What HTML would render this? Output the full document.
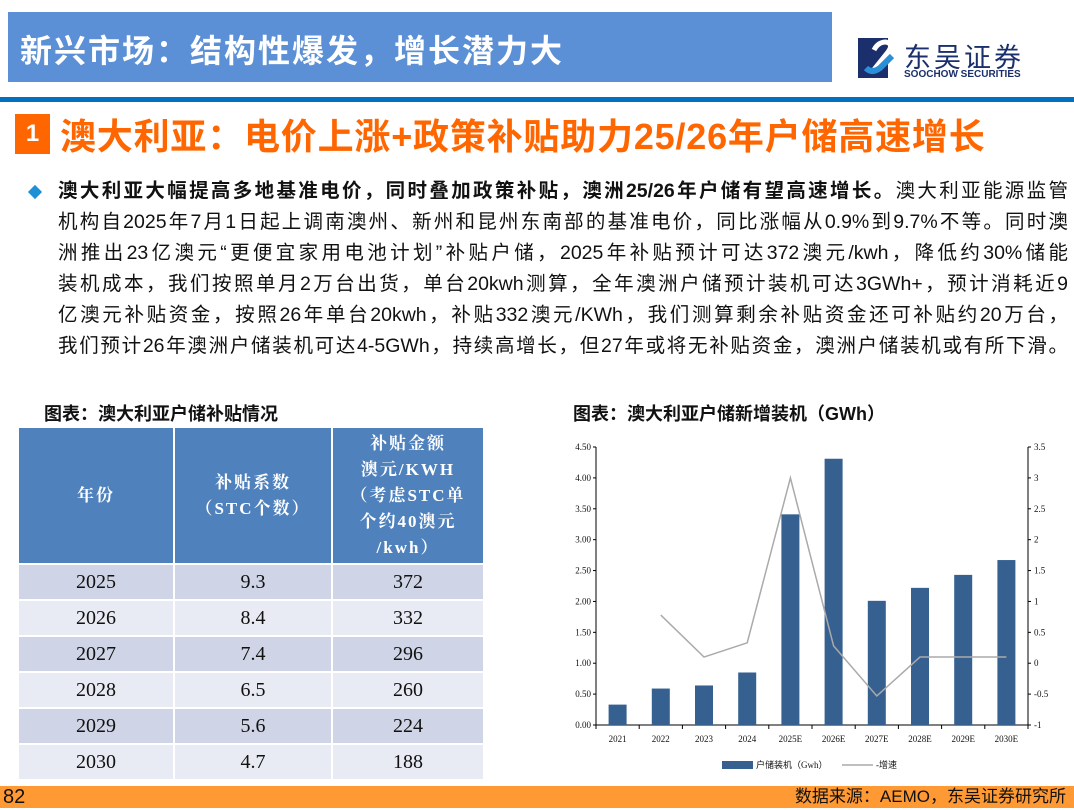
<!DOCTYPE html>
<html><head><meta charset="utf-8">
<style>
body{margin:0;width:1074px;height:810px;position:relative;background:#fff;font-family:"Liberation Sans","Noto Sans CJK SC",sans-serif;overflow:hidden}
.abs{position:absolute}
.ln{position:absolute;left:58px;width:1010px;font-size:19.5px;line-height:30px;color:#111;text-align:justify;text-align-last:justify;white-space:nowrap}
table{border-collapse:collapse;font-family:"Liberation Serif","Noto Serif CJK SC",serif}
td{border:2px solid #fff;text-align:center;font-size:20px;color:#111;padding:0}
th{border:2px solid #fff;background:#4f81bd;color:#fff;font-size:17px;font-weight:bold;line-height:26px;padding:0;letter-spacing:2px}
</style></head><body>
<div class="abs" style="left:8px;top:12px;width:824px;height:70px;background:#5b8fd6"></div>
<div class="abs" style="left:20px;top:26px;font-size:32px;font-weight:bold;color:#fff;letter-spacing:2px">新兴市场：结构性爆发，增长潜力大</div>
<div class="abs" style="left:858px;top:38px;width:40px;height:40px">
<svg width="40" height="40"><rect x="0" y="0" width="30" height="40" fill="#1a2f6b"/><path d="M14 34 L30 14 Q36 6 28 4 Q20 4 16 12" stroke="#fff" stroke-width="5" fill="none"/><path d="M8 30 Q14 36 22 30 L34 18" stroke="#2a8fd6" stroke-width="6" fill="none"/></svg></div>
<div class="abs" style="left:904px;top:36px;font-size:27px;color:#1a2f6b;letter-spacing:3px">东吴证券</div>
<div class="abs" style="left:904px;top:69px;font-size:10px;font-weight:bold;color:#1a2f6b">SOOCHOW SECURITIES</div>
<div class="abs" style="left:0;top:97px;width:1074px;height:5px;background:#0070c0"></div>
<div class="abs" style="left:15px;top:114px;width:35px;height:40px;background:#ff6600;color:#fff;font-weight:bold;font-size:24px;text-align:center;line-height:40px">1</div>
<div class="abs" style="left:60px;top:108px;font-size:36px;font-weight:bold;color:#ff6600;white-space:nowrap;letter-spacing:0.8px">澳大利亚：电价上涨+政策补贴助力25/26年户储高速增长</div>
<div class="abs" style="left:30px;top:187px;width:10px;height:10px;background:#1e90d6;transform:rotate(45deg)"></div>
<div>
<div class="ln" style="top:176px"><b>澳大利亚大幅提高多地基准电价，同时叠加政策补贴，澳洲25/26年户储有望高速增长。</b>澳大利亚能源监管</div>
<div class="ln" style="top:207px">机构自2025年7月1日起上调南澳州、新州和昆州东南部的基准电价，同比涨幅从0.9%到9.7%不等。同时澳</div>
<div class="ln" style="top:238px">洲推出23亿澳元“更便宜家用电池计划”补贴户储，2025年补贴预计可达372澳元/kwh，降低约30%储能</div>
<div class="ln" style="top:269px">装机成本，我们按照单月2万台出货，单台20kwh测算，全年澳洲户储预计装机可达3GWh+，预计消耗近9</div>
<div class="ln" style="top:300px">亿澳元补贴资金，按照26年单台20kwh，补贴332澳元/KWh，我们测算剩余补贴资金还可补贴约20万台，</div>
<div class="ln" style="top:331px">我们预计26年澳洲户储装机可达4-5GWh，持续高增长，但27年或将无补贴资金，澳洲户储装机或有所下滑。</div>
</div>
<div class="abs" style="left:44px;top:400px;font-size:18px;font-weight:bold;color:#111">图表：澳大利亚户储补贴情况</div>
<table class="abs" style="left:17px;top:426px;width:468px">
<tr style="height:137px"><th style="width:154px">年份</th><th style="width:156px">补贴系数<br>（STC个数）</th><th>补贴金额<br>澳元/KWH<br>（考虑STC单<br>个约40澳元<br>/kwh）</th></tr>
<tr style="height:36px;background:#cfd5e6"><td>2025</td><td>9.3</td><td>372</td></tr>
<tr style="height:36px;background:#e8ebf3"><td>2026</td><td>8.4</td><td>332</td></tr>
<tr style="height:36px;background:#cfd5e6"><td>2027</td><td>7.4</td><td>296</td></tr>
<tr style="height:36px;background:#e8ebf3"><td>2028</td><td>6.5</td><td>260</td></tr>
<tr style="height:36px;background:#cfd5e6"><td>2029</td><td>5.6</td><td>224</td></tr>
<tr style="height:36px;background:#e8ebf3"><td>2030</td><td>4.7</td><td>188</td></tr>
</table>
<div class="abs" style="left:573px;top:400px;font-size:18px;font-weight:bold;color:#111">图表：澳大利亚户储新增装机（GWh）</div>
<svg class="abs" id="chart" style="left:0;top:0" width="1074" height="810"></svg>
<div class="abs" style="left:0;top:786px;width:1074px;height:22px;background:#ff9933"></div>
<div class="abs" style="left:3px;top:786px;font-size:20px;color:#111;line-height:22px">82</div>
<div class="abs" style="right:8px;top:786px;font-size:17px;color:#111;line-height:22px">数据来源：AEMO，东吴证券研究所</div>
<script>
const categories=["2021","2022","2023","2024","2025E","2026E","2027E","2028E","2029E","2030E"];
const installs=[0.33,0.59,0.64,0.85,3.41,4.31,2.01,2.22,2.43,2.67];
const growth=[null,0.78,0.1,0.33,3.0,0.28,-0.53,0.1,0.1,0.1];
const leftTicks=[0,0.5,1,1.5,2,2.5,3,3.5,4,4.5];
const rightTicks=[-1,-0.5,0,0.5,1,1.5,2,2.5,3,3.5];
const svg=document.getElementById('chart');
const NS="http://www.w3.org/2000/svg";
const X0=596,X1=1028,Y0=725,Y1=447;
const bw=(X1-X0)/categories.length;
const yL=v=>Y0-(v-0)/(4.5-0)*(Y0-Y1);
const yR=v=>Y0-(v+1)/(3.5+1)*(Y0-Y1);
const xC=i=>X0+bw*(i+0.5);
function mk(t,a){const e=document.createElementNS(NS,t);for(const k in a)e.setAttribute(k,a[k]);svg.appendChild(e);return e;}
const F='font-family:"Liberation Serif",serif;font-size:9px;fill:#111';
let e;
e=mk('line',{x1:X0,y1:Y1,x2:X0,y2:Y0,stroke:'#000'});


e=mk('line',{x1:X1,y1:Y1,x2:X1,y2:Y0,stroke:'#000'});


e=mk('line',{x1:X0,y1:Y0,x2:X1,y2:Y0,stroke:'#000'});


leftTicks.forEach(v=>{mk('line',{x1:X0-3,x2:X0,y1:yL(v),y2:yL(v),stroke:'#000'});
e=mk('text',{x:X0-5,y:yL(v)+3,'text-anchor':'end',style:F});e.textContent=v.toFixed(2);

});
rightTicks.forEach(v=>{mk('line',{x1:X1,x2:X1+3,y1:yR(v),y2:yR(v),stroke:'#000'});
e=mk('text',{x:X1+6,y:yR(v)+3,style:F});e.textContent=String(v);

});
categories.forEach((c,i)=>{mk('line',{x1:X0+bw*i,x2:X0+bw*i,y1:Y0,y2:Y0+4,stroke:'#000'});
e=mk('text',{x:xC(i),y:Y0+17,'text-anchor':'middle',style:F});e.textContent=c;


e=mk('rect',{x:xC(i)-9,y:yL(installs[i]),width:18,height:Y0-yL(installs[i]),fill:'#36608f'});

});
mk('line',{x1:X1,x2:X1,y1:Y0,y2:Y0+4,stroke:'#000'});
let pts=[];growth.forEach((g,i)=>{if(g!==null)pts.push(xC(i)+','+yR(g));});
e=mk('polyline',{points:pts.join(' '),fill:'none',stroke:'#aaa','stroke-width':1.5});


e=mk('rect',{x:722,y:761,width:31,height:8,fill:'#36608f'});


e=mk('text',{x:756,y:768,style:'font-family:"Liberation Serif","Noto Sans CJK SC",serif;font-size:9px;fill:#111'});e.textContent='户储装机（Gwh）';


e=mk('line',{x1:842,x2:873,y1:765,y2:765,stroke:'#aaa','stroke-width':1.5});


e=mk('text',{x:876,y:768,style:'font-family:"Liberation Serif","Noto Sans CJK SC",serif;font-size:9px;fill:#111'});e.textContent='-增速';


</script>
</body></html>
